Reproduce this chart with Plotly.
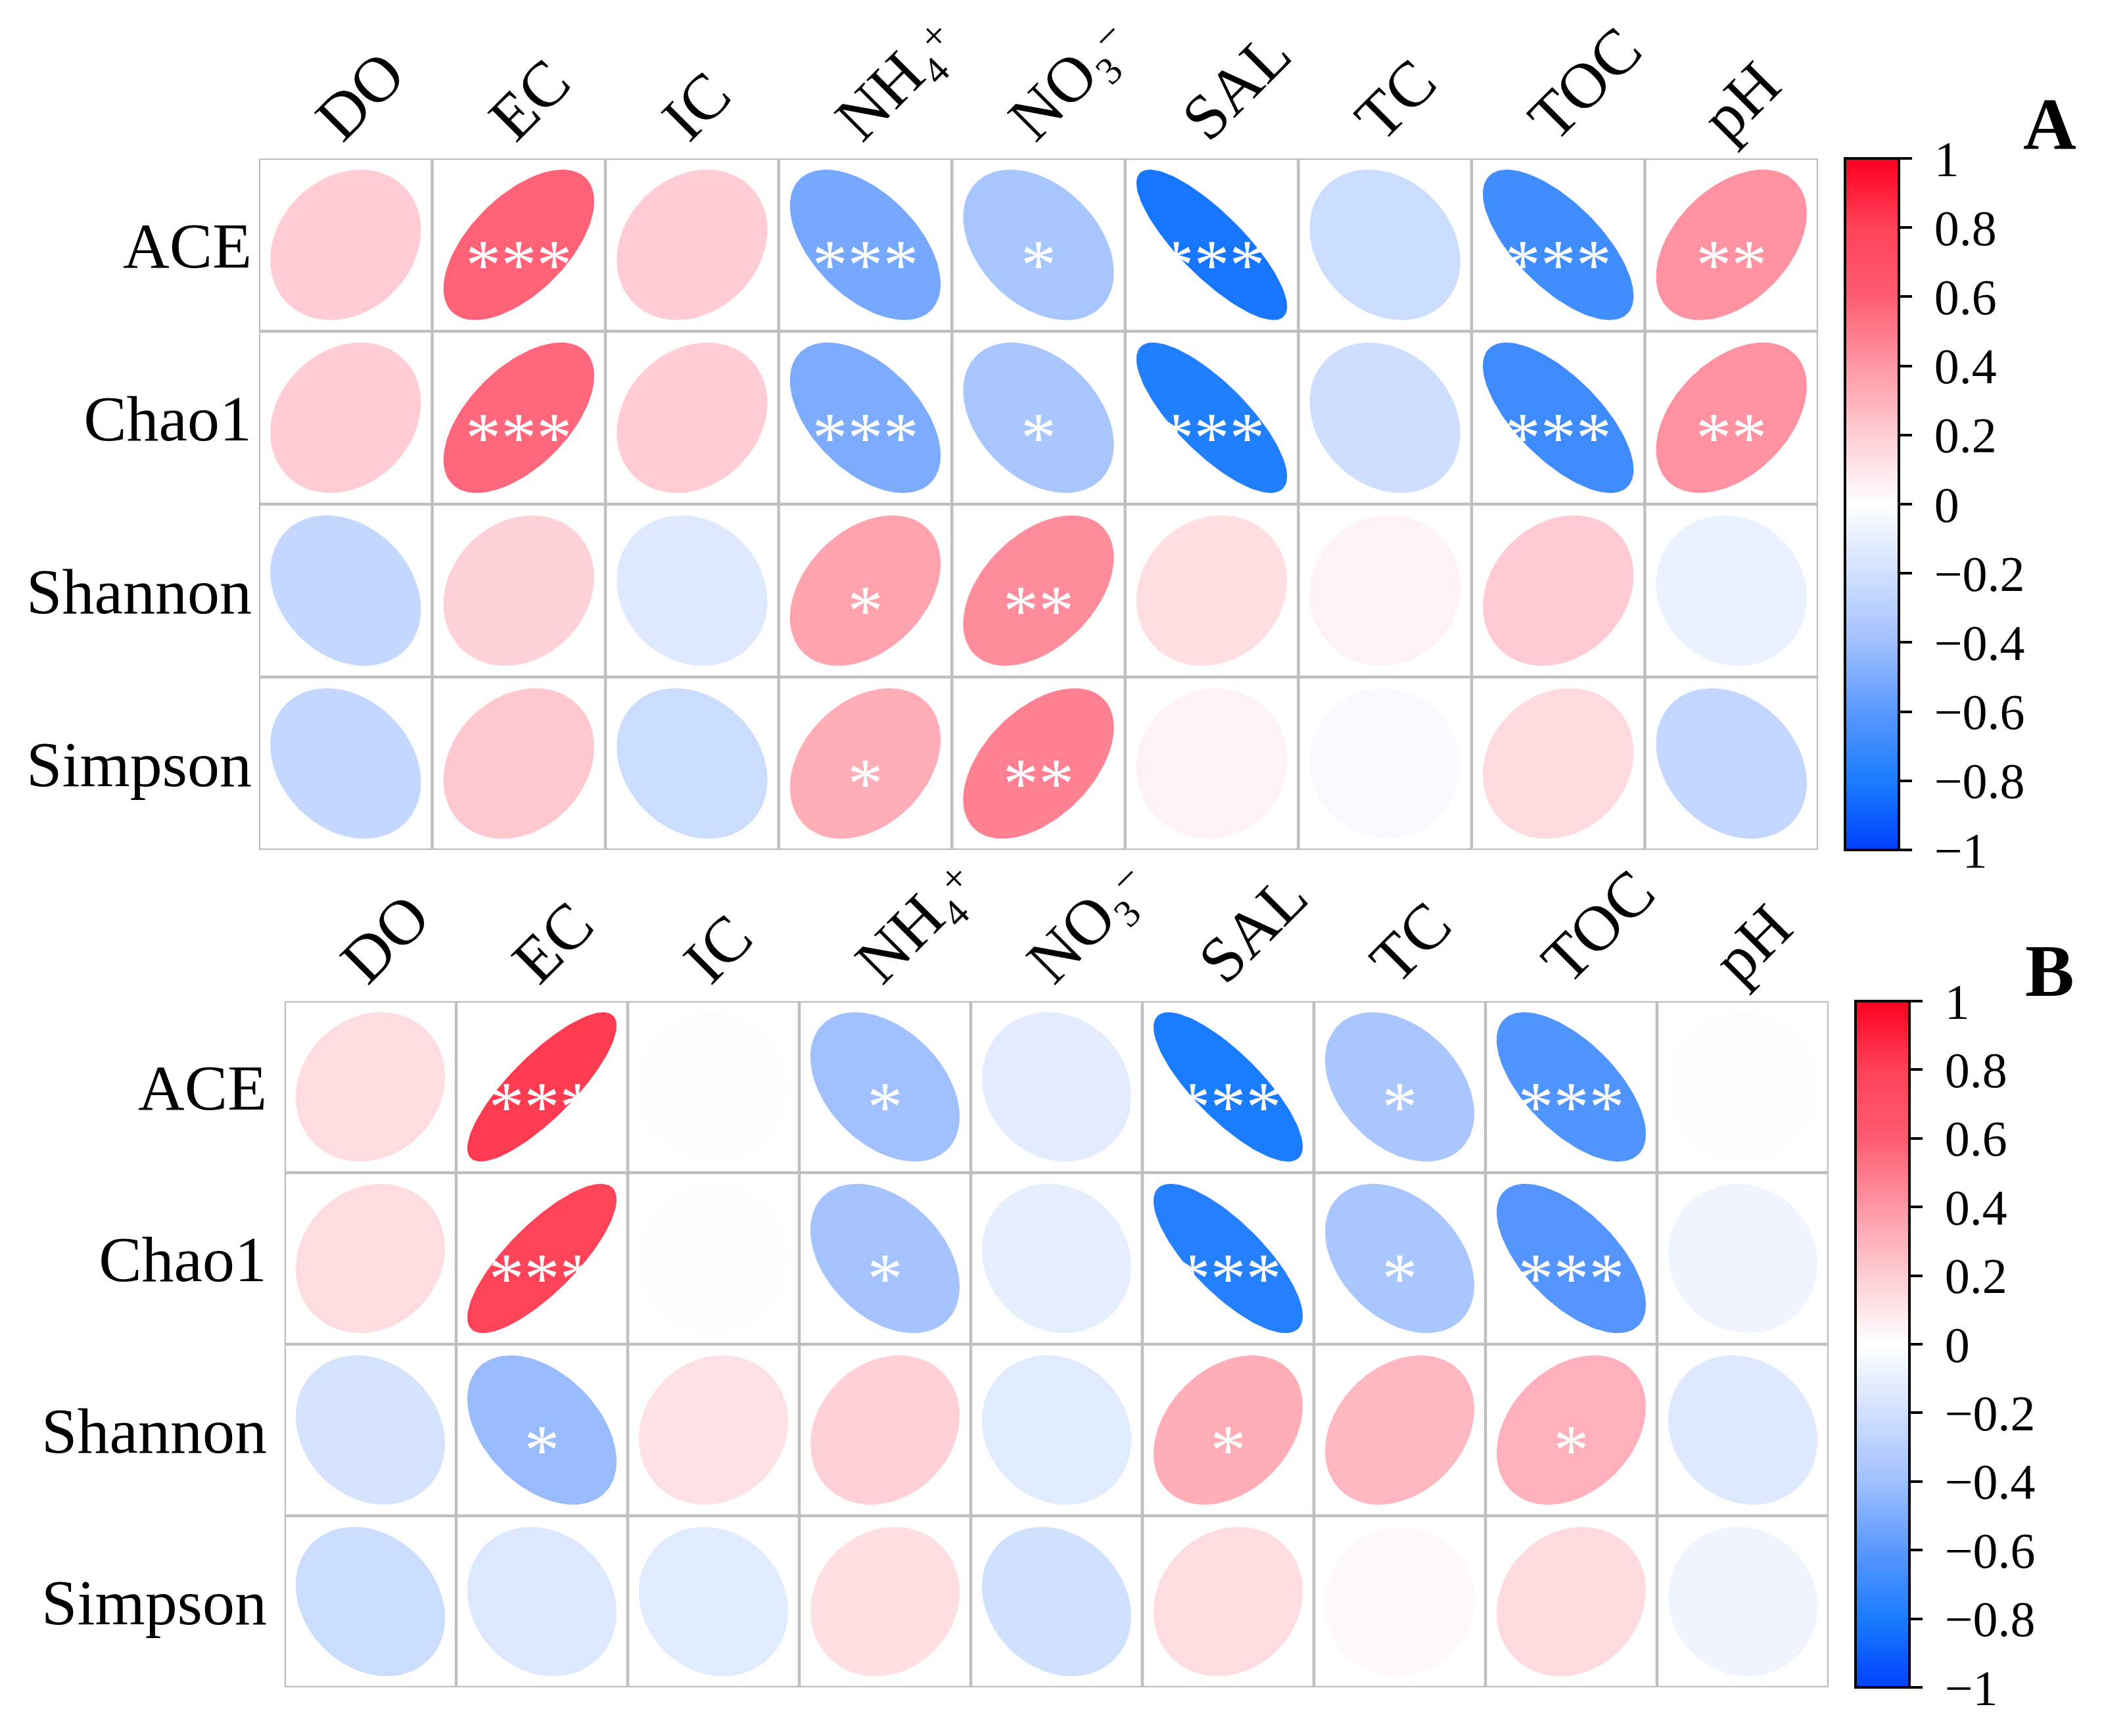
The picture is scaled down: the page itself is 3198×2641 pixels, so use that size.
import numpy as np
import plotly.graph_objects as go

# ---------------- data ----------------
SUPSTYLE = "font-size:65%;baseline-shift:18px"
env_vars = ["DO", "EC", "IC",
            "NH₄<span style='%s'>+</span>" % SUPSTYLE,
            "NO₃<span style='%s'>−</span>" % SUPSTYLE,
            "SAL", "TC", "TOC", "pH"]
indices = ["ACE", "Chao1", "Shannon", "Simpson"]

# Panel A correlations (rows = indices, cols = env_vars)
A_ACE     = [0.20, 0.58, 0.20, -0.52, -0.37, -0.82, -0.22, -0.68, 0.42]
A_Chao1   = [0.20, 0.56, 0.20, -0.50, -0.36, -0.78, -0.21, -0.69, 0.42]
A_Shannon = [-0.25, 0.18, -0.14, 0.36, 0.44, 0.13, 0.05, 0.21, -0.09]
A_Simpson = [-0.25, 0.22, -0.22, 0.32, 0.48, 0.05, -0.03, 0.15, -0.26]
A_sig_ACE     = ["", "***", "", "***", "*", "***", "", "***", "**"]
A_sig_Chao1   = ["", "***", "", "***", "*", "***", "", "***", "**"]
A_sig_Shannon = ["", "", "", "*", "**", "", "", "", ""]
A_sig_Simpson = ["", "", "", "*", "**", "", "", "", ""]

# Panel B correlations
B_ACE     = [0.14, 0.82, -0.01, -0.40, -0.12, -0.80, -0.36, -0.63, -0.01]
B_Chao1   = [0.14, 0.79, 0.01, -0.38, -0.11, -0.77, -0.36, -0.62, -0.07]
B_Shannon = [-0.18, -0.42, 0.12, 0.19, -0.13, 0.32, 0.28, 0.31, -0.14]
B_Simpson = [-0.22, -0.15, -0.13, 0.13, -0.20, 0.14, 0.03, 0.15, -0.07]
B_sig_ACE     = ["", "***", "", "*", "", "***", "*", "***", ""]
B_sig_Chao1   = ["", "***", "", "*", "", "***", "*", "***", ""]
B_sig_Shannon = ["", "*", "", "", "", "*", "", "*", ""]
B_sig_Simpson = ["", "", "", "", "", "", "", "", ""]

cbar_ticks = [1, 0.8, 0.6, 0.4, 0.2, 0, -0.2, -0.4, -0.6, -0.8, -1]

# ---------------- style ----------------
W, H = 3198, 2641
FONT = "Times New Roman, Liberation Serif, serif"
GRID = "#BFBFBF"

cscale = [
    [0.0, "#0041FF"], [0.1, "#1A7CFF"], [0.2, "#5A98FF"], [0.3, "#A0C0FF"],
    [0.4, "#D0E0FF"], [0.5, "#FFFFFF"], [0.6, "#FFCDD3"], [0.7, "#FF98A5"],
    [0.8, "#FF5C72"], [0.9, "#FF4258"], [1.0, "#FF0020"],
]


def hex2rgb(h):
    h = h.lstrip("#")
    return [int(h[i:i + 2], 16) for i in (0, 2, 4)]


def color_of(v):
    t = (v + 1) / 2
    for (t0, c0), (t1, c1) in zip(cscale[:-1], cscale[1:]):
        if t0 <= t <= t1:
            f = (t - t0) / (t1 - t0) if t1 > t0 else 0
            a, b = hex2rgb(c0), hex2rgb(c1)
            rgb = [round(a[i] + f * (b[i] - a[i])) for i in range(3)]
            return "rgb(%d,%d,%d)" % tuple(rgb)
    return cscale[-1][1]


def px_to_paper_x(px):
    return px / W


def px_to_paper_y(py):
    return 1 - py / H


def fmt_tick(t):
    s = ("−" + str(abs(t))) if t < 0 else str(t)
    return "\u00a0" + s


panels = [
    dict(rows=[A_ACE, A_Chao1, A_Shannon, A_Simpson],
         sigs=[A_sig_ACE, A_sig_Chao1, A_sig_Shannon, A_sig_Simpson],
         x0=394, x1=2766, y0=241, y1=1293, row_gap=10,
         cb_x=2807, cb_top=241, cb_bot=1293, label="A", label_y=189),
    dict(rows=[B_ACE, B_Chao1, B_Shannon, B_Simpson],
         sigs=[B_sig_ACE, B_sig_Chao1, B_sig_Shannon, B_sig_Simpson],
         x0=433, x1=2782, y0=1523, y1=2567, row_gap=26,
         cb_x=2823, cb_top=1523, cb_bot=2567, label="B", label_y=1477),
]

fig = go.Figure()
ks = np.linspace(0, 2 * np.pi, 120)
HALF = 0.435
LABEL_SHIFT = 0.15
LABEL_DROP = 12
shapes = []
annotations = []

for p_i, p in enumerate(panels):
    xa = "x" if p_i == 0 else "x2"
    ya = "y" if p_i == 0 else "y2"
    xlab = "x3" if p_i == 0 else "x4"
    for r_i, (vals, sig) in enumerate(zip(p["rows"], p["sigs"])):
        for c_i, v in enumerate(vals):
            d = np.arccos(v)
            ex = (c_i + 1) + HALF * np.cos(ks + d / 2)
            ey = (r_i + 1) - HALF * np.cos(ks - d / 2)
            fig.add_trace(go.Scatter(
                x=ex, y=ey, mode="lines", fill="toself",
                fillcolor=color_of(v), line=dict(width=0, color=color_of(v)),
                hoverinfo="skip", showlegend=False, xaxis=xa, yaxis=ya))
        # significance stars
        sx = [c_i + 1 for c_i, s in enumerate(sig) if s]
        st = [s for s in sig if s]
        fig.add_trace(go.Scatter(
            x=sx, y=[r_i + 1.15] * len(sx), mode="text", text=st,
            textposition="middle center",
            textfont=dict(family=FONT, size=108, color="white"),
            hoverinfo="skip", showlegend=False, xaxis=xa, yaxis=ya))
    # invisible carrier for the label axis
    fig.add_trace(go.Scatter(x=[None], y=[None], mode="markers", xaxis=xlab, yaxis=ya,
                             hoverinfo="skip", showlegend=False))
    # colorbar carrier
    fig.add_trace(go.Scatter(
        x=[1], y=[1], mode="markers", xaxis=xa, yaxis=ya,
        marker=dict(size=0.1, opacity=0, color=[0], cmin=-1, cmax=1,
                    colorscale=cscale, showscale=True,
                    colorbar=dict(
                        x=px_to_paper_x(p["cb_x"]), xanchor="left", xpad=0, ypad=0,
                        y=px_to_paper_y(p["cb_top"]), yanchor="top",
                        len=(p["cb_bot"] - p["cb_top"]) / H, lenmode="fraction",
                        thickness=82, outlinewidth=4, outlinecolor="black",
                        ticks="outside", ticklen=18, tickwidth=4, tickcolor="black",
                        tickvals=cbar_ticks,
                        ticktext=[fmt_tick(t) for t in cbar_ticks],
                        tickfont=dict(family=FONT, size=76, color="black"),
                    )),
        hoverinfo="skip", showlegend=False))
    # grid lines
    for k in range(10):
        shapes.append(dict(type="line", xref=xa, yref=ya + " domain",
                           x0=k + 0.5, x1=k + 0.5, y0=0, y1=1,
                           line=dict(color=GRID, width=4.5), layer="below"))
    for k in range(5):
        shapes.append(dict(type="line", xref=xa + " domain", yref=ya,
                           x0=0, x1=1, y0=k + 0.5, y1=k + 0.5,
                           line=dict(color=GRID, width=4.5), layer="below"))
    annotations.append(dict(text="<b>%s</b>" % p["label"], xref="paper", yref="paper",
                            x=px_to_paper_x(3118), y=px_to_paper_y(p["label_y"]),
                            xanchor="center", yanchor="middle", showarrow=False,
                            font=dict(family=FONT, size=112, color="black")))

axis_main_x = dict(range=[0.5, 9.5], showticklabels=False, showgrid=False,
                   zeroline=False, ticks="", showline=False, fixedrange=True)
axis_label_x = dict(range=[0.5 + LABEL_SHIFT, 9.5 + LABEL_SHIFT], tickmode="array",
                    tickvals=list(range(1, 10)), ticktext=env_vars, side="top",
                    tickangle=-45, showgrid=False, zeroline=False, ticks="",
                    showline=False, fixedrange=True, automargin=False,
                    tickfont=dict(family=FONT, size=98, color="black"))
axis_common_y = dict(range=[4.5, 0.5], tickmode="array", tickvals=list(range(1, 5)),
                     ticktext=indices, showgrid=False, zeroline=False, ticks="",
                     showline=False, fixedrange=True,
                     automargin=False,
                     tickfont=dict(family=FONT, size=98, color="black"))

pa, pb = panels
dA = [pa["x0"] / W, pa["x1"] / W]
dB = [pb["x0"] / W, pb["x1"] / W]
fig.update_layout(
    width=W, height=H, margin=dict(l=0, r=0, t=0, b=0, autoexpand=False),
    paper_bgcolor="white", plot_bgcolor="white",
    xaxis=dict(axis_main_x, domain=dA, anchor="y"),
    yaxis=dict(axis_common_y, domain=[px_to_paper_y(pa["y1"]), px_to_paper_y(pa["y0"])],
               anchor="x", ticklabelstandoff=pa["row_gap"]),
    xaxis2=dict(axis_main_x, domain=dB, anchor="y2"),
    yaxis2=dict(axis_common_y, domain=[px_to_paper_y(pb["y1"]), px_to_paper_y(pb["y0"])],
                anchor="x2", ticklabelstandoff=pb["row_gap"]),
    xaxis3=dict(axis_label_x, domain=dA, anchor="free", overlaying="x",
                position=px_to_paper_y(pa["y0"] + LABEL_DROP)),
    xaxis4=dict(axis_label_x, domain=dB, anchor="free", overlaying="x2",
                position=px_to_paper_y(pb["y0"] + LABEL_DROP)),
    shapes=shapes, annotations=annotations, showlegend=False,
)

fig.write_html("out.html")
